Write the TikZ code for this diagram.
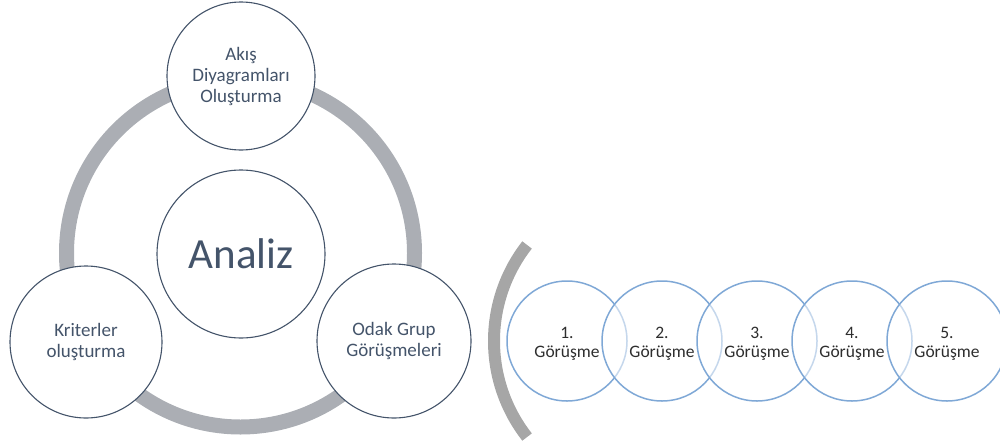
\documentclass[tikz,border=0pt]{standalone}
\usepackage{fontspec}
\setmainfont{Carlito}
\definecolor{slate}{HTML}{44546A}
\definecolor{ringgray}{HTML}{ABAEB4}
\definecolor{arcgray}{HTML}{A6A6A6}
\definecolor{ringblue}{HTML}{7FA8D6}
\definecolor{inktext}{HTML}{2E2E2E}
\begin{document}
\begin{tikzpicture}[x=1pt,y=-1pt,
  phase/.style={circle, draw=slate, line width=1.1pt, fill=white,
    minimum size=#1, inner sep=0pt, text=slate, align=center,
    font=\fontsize{19}{21}\selectfont},
  meeting/.style={circle, draw=ringblue, line width=1.5pt, fill=white,
    fill opacity=0.55, minimum size=120pt, inner sep=0pt},
  meetlabel/.style={align=center, text=inktext, inner sep=0pt,
    font=\fontsize{17.5}{19.5}\selectfont}]
\useasboundingbox (0,0) rectangle (1000,447);

% cycle ring behind the analysis steps
\coordinate (hub) at (240.5,253);
\draw[ringgray, line width=15pt] (hub) circle[radius=174];

% analysis steps
\node[phase=148pt] (flow) at (241,76) {Akış\\Diyagramları\\Oluşturma};
\node[phase=168pt, font=\fontsize{43}{48}\selectfont] (analiz) at (241,254) {Analiz};
\node[phase=152pt] (crit) at (86,342) {Kriterler\\oluşturma};
\node[phase=154pt] (focus) at (394,341) {Odak Grup\\Görüşmeleri};

% bracket arc in front of the interview chain
\coordinate (bc) at (650,341);
\draw[arcgray, line width=12pt] (bc) ++(142:156) arc[start angle=142, end angle=218, radius=156];

% interview chain: overlapping rings, each veiling the one before it
\foreach \i/\x in {1/567, 2/662, 3/757, 4/852, 5/947}
  \node[meeting] (g\i) at (\x,341) {};
\foreach \i in {1,...,5}
  \node[meetlabel] (t\i) at ([yshift=-3pt]g\i.center) {\i.\\Görüşme};
\end{tikzpicture}
\end{document}
